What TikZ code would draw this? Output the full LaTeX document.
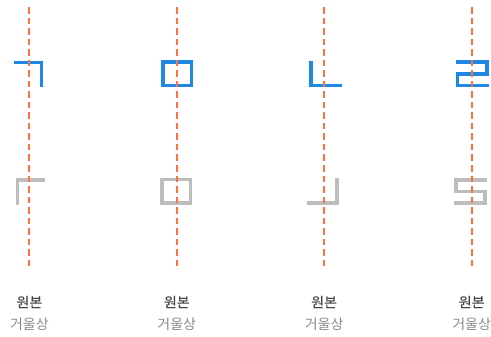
\documentclass[tikz,border=0pt]{standalone}
\usepackage{fontspec}
\newfontfamily\krfont{Noto Sans CJK KR}
\newfontfamily\krmed[FakeBold=0.2]{Noto Sans CJK KR}
\definecolor{glyphblue}{HTML}{1E88E5}
\definecolor{glyphgray}{HTML}{BDBDBD}
\definecolor{axisorange}{HTML}{FF7043}
\definecolor{labeldark}{HTML}{444444}
\definecolor{labelgray}{HTML}{8A8A8A}
\begin{document}
\begin{tikzpicture}[x=0.75pt,y=-0.75pt,
  orig/.style={draw=glyphblue,line width=2.7pt,miter limit=10},
  mirr/.style={draw=glyphgray,line width=2.7pt,miter limit=10},
  axisline/.style={draw=axisorange,line width=1.6pt,dash pattern=on 4.9pt off 3pt},
  origlabel/.style={font=\krmed\fontsize{10.5pt}{12pt}\selectfont,text=labeldark,inner sep=0pt},
  mirrlabel/.style={font=\krfont\fontsize{10.5pt}{12pt}\selectfont,text=labelgray,inner sep=0pt}]
\useasboundingbox (0,0) rectangle (491,336);
% column 1: giyeok
\draw[orig] (14,62.3) -- (41.5,62.3) -- (41.5,87.3);
\draw[mirr] (45,180) -- (17.5,180) -- (17.5,204.7);
% column 2: mieum
\draw[orig] (163,62) rectangle (191.5,85.5);
\draw[mirr] (162,179.5) rectangle (190.5,203);
% column 3: nieun
\draw[orig] (310.8,60.7) -- (310.8,85.3) -- (341.7,85.3);
\draw[mirr] (337.2,178) -- (337.2,203) -- (306.5,203);
% column 4: rieul
\draw[orig] (455.7,61.8) -- (487.2,61.8) -- (487.2,73.7) -- (457.5,73.7) -- (457.5,85.5) -- (489,85.5);
\draw[mirr] (486.7,179.7) -- (456,179.7) -- (456,191.3) -- (485,191.3) -- (485,203) -- (454.3,203);
% axes
\foreach \ax [count=\i] in {29.4,176.8,324.1,471.6} {
  \coordinate (top\i) at (\ax,7);
  \coordinate (bot\i) at (\ax,270);
  \draw[axisline] (top\i) -- (bot\i);
  \node[origlabel] (o\i) at (\ax,302) {원본};
  \node[mirrlabel] (m\i) at (\ax,324) {거울상};
}
\end{tikzpicture}
\end{document}
